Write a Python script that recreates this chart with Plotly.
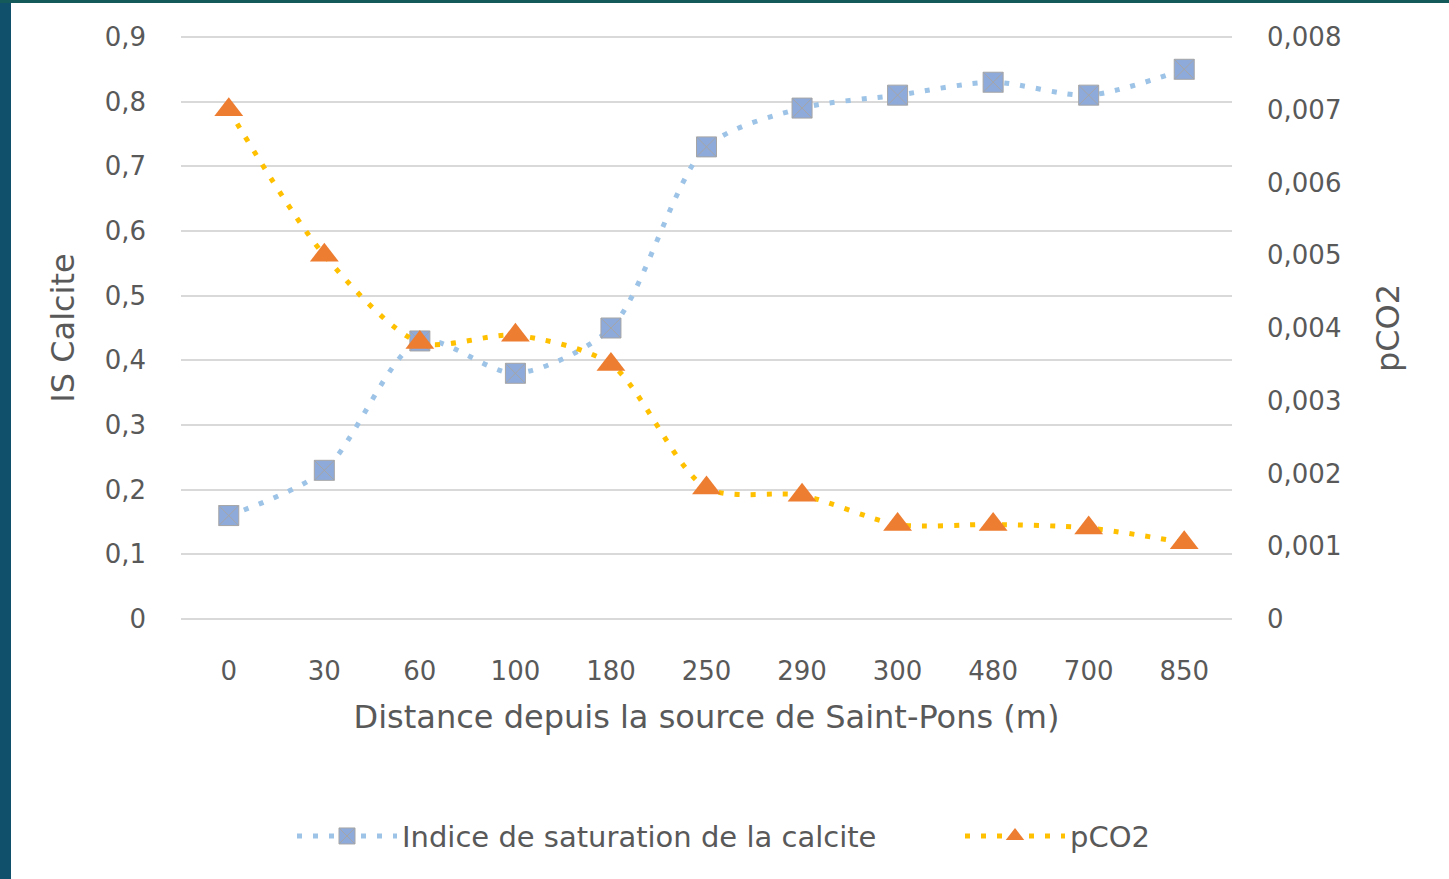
import plotly.graph_objects as go

distances = ["0", "30", "60", "100", "180", "250", "290", "300", "480", "700", "850"]
is_calcite = [0.16, 0.23, 0.43, 0.38, 0.45, 0.73, 0.79, 0.81, 0.83, 0.81, 0.85]
pco2 = [0.0070, 0.0050, 0.0038, 0.0039, 0.0035, 0.0018, 0.0017, 0.0013, 0.0013, 0.00125, 0.00105]

FONT = "DejaVu Sans"
GREY = "#595959"
TICK = 26
TITLE = 32

fig = go.Figure()
fig.add_trace(go.Scatter(
    x=distances, y=is_calcite, name="Indice de saturation de la calcite",
    mode="lines+markers",
    line=dict(color="#9dc3e6", width=5, dash="5px,11px", shape="spline", smoothing=0.8),
    marker=dict(symbol="square-x", size=20, color="#8eaadb", line=dict(color="#a5a5a5", width=1)),
    yaxis="y", legend="legend",
))
fig.add_trace(go.Scatter(
    x=distances, y=pco2, name="pCO2",
    mode="lines+markers",
    line=dict(color="#ffc000", width=5, dash="5px,11px", shape="spline", smoothing=0.8),
    marker=dict(symbol="triangle-up", size=25, color="#ed7d31", line=dict(width=0)),
    yaxis="y2", legend="legend2",
))

W, H = 1449, 879
# plot area in pixels: x 181..1232, y(0.9)=37 .. y(0)=619
PX_LEFT, PX_RIGHT, PX_TOP, PX_BOTTOM = 181, 1232, 37, 619
pad = 0.003                       # small range padding so edge gridlines are drawn
unit = (PX_BOTTOM - PX_TOP) / 0.9  # px per unit on the left axis
L = PX_LEFT
R = W - PX_RIGHT
T = PX_TOP - pad * unit
B = H - PX_BOTTOM - pad * unit
pw = W - L - R
ph = H - T - B

def px_x(p):
    return (p - L) / pw

def px_y(p):
    return (H - B - p) / ph

legend_style = dict(
    orientation="h", xanchor="left", y=px_y(836), yanchor="middle",
    font=dict(size=29, color=GREY, family=FONT), itemwidth=100,
    bgcolor="rgba(0,0,0,0)",
)

r2 = 0.008 / 0.9
fig.update_layout(
    width=W, height=H,
    margin=dict(l=L, r=R, t=T, b=B, autoexpand=False),
    paper_bgcolor="white", plot_bgcolor="white",
    separators=", ",
    font=dict(family=FONT, color=GREY, size=TICK),
    xaxis=dict(
        type="category", range=[-0.5, 10.5], showgrid=False, zeroline=False,
        showline=False, ticks="", ticklabelstandoff=32,
        tickfont=dict(size=TICK, color=GREY, family=FONT),
        title=dict(text="Distance depuis la source de Saint-Pons (m)", standoff=20,
                   font=dict(size=TITLE, color=GREY, family=FONT)),
    ),
    yaxis=dict(
        range=[-pad, 0.9 + pad], dtick=0.1, tick0=0, showgrid=True, gridcolor="#d9d9d9", gridwidth=1.5,
        zeroline=False, showline=False, ticks="", ticklabelstandoff=34,
        tickfont=dict(size=TICK, color=GREY, family=FONT),
        title=dict(text="IS Calcite", standoff=20, font=dict(size=TITLE, color=GREY, family=FONT)),
    ),
    yaxis2=dict(
        range=[-pad * r2, 0.008 + pad * r2], dtick=0.001, tick0=0,
        overlaying="y", side="right",
        showgrid=False, zeroline=False, showline=False, ticks="", ticklabelstandoff=34,
        tickfont=dict(size=TICK, color=GREY, family=FONT),
        title=dict(text="pCO2", standoff=36, font=dict(size=TITLE, color=GREY, family=FONT)),
    ),
    legend=dict(x=px_x(292), **legend_style),
    legend2=dict(x=px_x(960), **legend_style),
    showlegend=True,
    shapes=[
        dict(type="rect", xref="paper", yref="paper", x0=px_x(0), x1=px_x(11),
             y0=px_y(H), y1=px_y(0), fillcolor="#10506a", line=dict(width=0), layer="below"),
        dict(type="rect", xref="paper", yref="paper", x0=px_x(0), x1=px_x(W),
             y0=px_y(3), y1=px_y(0), fillcolor="#145a5a", line=dict(width=0), layer="below"),
    ],
)

fig.write_html("out.html", config={"displayModeBar": False},
               post_script="document.body.style.margin='0';document.body.style.overflow='hidden';")
